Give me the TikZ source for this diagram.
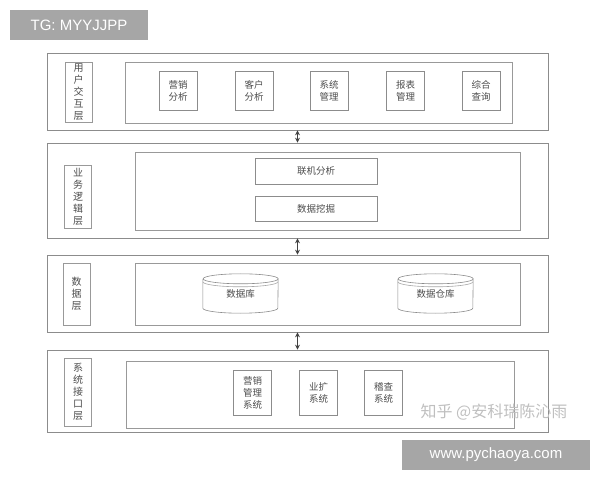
\documentclass[tikz,border=0pt]{standalone}
\usepackage{fontspec}
\setmainfont{Liberation Sans}
\newfontfamily\cjk{Noto Sans CJK SC}
\usetikzlibrary{positioning}
\usetikzlibrary{arrows.meta}
\tikzset{
	layerbox/.style={
		draw=black!45,
		line width=0.7pt,
		minimum width=501,
		minimum height=#1,
		inner sep=0pt
	},
	panel/.style 2 args={
		draw=black!40,
		line width=0.6pt,
		minimum width=#1,
		minimum height=#2,
		inner sep=0pt
	},
	tagbox/.style={
		draw=black!40,
		line width=0.6pt,
		minimum width=27,
		minimum height=#1,
		inner sep=0pt,
		align=center,
		text=black!70,
		font=\cjk\fontsize{10}{12}\selectfont
	},
	modbox/.style 2 args={
		draw=black!45,
		line width=0.6pt,
		minimum width=#1,
		minimum height=#2,
		inner sep=0pt,
		align=center,
		text=black!70,
		font=\cjk\fontsize{9.5}{12}\selectfont
	},
	cyl/.style={
		minimum width=75,
		minimum height=29,
		inner sep=0pt,
		text=black!70,
		font=\cjk\fontsize{9.5}{12}\selectfont
	},
	updown/.style={
		{Stealth[length=5pt,width=5pt]}-{Stealth[length=5pt,width=5pt]},
		line width=0.9pt,
		black!75
	},
	stamp/.style={
		fill=black!35,
		text=white,
		inner sep=0pt,
		font=\fontsize{15}{15}\selectfont
	}
}
\begin{document}
\begin{tikzpicture}[x=1pt,y=1pt]
	\useasboundingbox (0,0) rectangle (600,480);

	\node [stamp, minimum width=138, minimum height=30] (tg) at (79,455) {TG: MYYJJPP};
	\node [stamp, minimum width=188, minimum height=30] (web) at (496,25) {www.pychaoya.com};

	\node [layerbox=77] (l1) at (297.5,388.5) {};
	\node [tagbox=60] (t1) at (78.5,388) {用\\户\\交\\互\\层};
	\node [panel={387}{61}] (i1) at (318.5,387.5) {};
	\foreach \x/\t/\n in {178/{营销\\分析}/a1, 254/{客户\\分析}/a2, 329/{系统\\管理}/a3, 405.5/{报表\\管理}/a4, 481/{综合\\查询}/a5}
		\node [modbox={38}{39}] (\n) at (\x,389.5) {\t};

	\node [layerbox=95] (l2) at (297.5,289.5) {};
	\node [tagbox=63] (t2) at (78,283.5) {业\\务\\逻\\辑\\层};
	\node [panel={385}{78}] (i2) at (327.5,289) {};
	\node [modbox={122}{26}] (b1) at (316,309) {联机分析};
	\node [modbox={122}{25}] (b2) at (316,271.5) {数据挖掘};

	\node [layerbox=77] (l3) at (297.5,186.5) {};
	\node [tagbox=62] (t3) at (76.5,186) {数\\据\\层};
	\node [panel={385}{62}] (i3) at (327.5,186) {};
	\node [cyl] (db) at (240.5,186.5) {\raisebox{-4pt}{数据库}};
	\node [cyl] (dw) at (435.5,186.5) {\raisebox{-4pt}{数据仓库}};
	\foreach \c in {db,dw} {
		\draw [black!45, line width=0.6pt] (\c.north west) -- (\c.south west)
			arc [start angle=180, end angle=360, x radius=37.5, y radius=5]
			-- (\c.north east)
			arc [start angle=0, end angle=360, x radius=37.5, y radius=5];
		\draw [black!35, line width=0.6pt] ([yshift=-3]\c.north west)
			arc [start angle=180, end angle=360, x radius=37.5, y radius=5];
	}

	\node [layerbox=82] (l4) at (297.5,89) {};
	\node [tagbox=68] (t4) at (78,88) {系\\统\\接\\口\\层};
	\node [panel={388}{67}] (i4) at (320,85.5) {};
	\foreach \x/\t/\n in {252.5/{营销\\管理\\系统}/s1, 318.5/{业扩\\系统}/s2, 383.5/{稽查\\系统}/s3}
		\node [modbox={38}{45}] (\n) at (\x,87.5) {\t};

	\node [text=black!25, font=\cjk\fontsize{16}{16}\selectfont] (wm) at (494,68) {知乎 @安科瑞陈沁雨};

	\draw [updown] (l1.south) -- (l2.north);
	\draw [updown] (l2.south) -- (l3.north);
	\draw [updown] (l3.south) -- (l4.north);
\end{tikzpicture}
\end{document}
